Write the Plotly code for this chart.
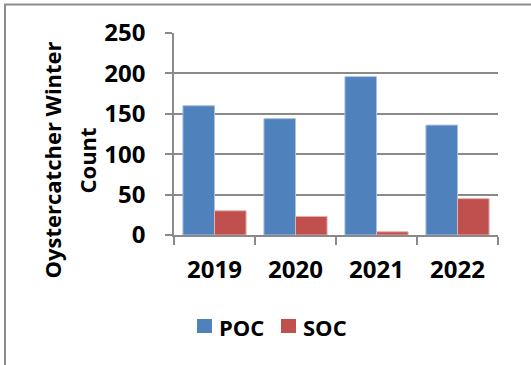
import plotly.graph_objects as go

# Winter counts of oystercatchers per survey year
years = ["2019", "2020", "2021", "2022"]
series_names = ["POC", "SOC"]
poc_counts = [160, 144, 196, 136]
soc_counts = [30, 23, 4, 45]
series_colors = ["#4F81BD", "#C0504D"]
edge_colors = ["#A9C0E0", "#E3B0AE"]

W, H = 531, 365
L, R, T, B = 174, 33, 33, 130
PW, PH = W - L - R, H - T - B


def px_x(p):
    return (p - L) / PW


def px_y(p):
    return (H - B - p) / PH


font_main = dict(family="Open Sans", size=22, color="black", weight="bold")
font_tick = dict(family="Open Sans", size=24, color="black", weight="bold")
grid_col = "#8A8A8A"

fig = go.Figure()
for name, vals, col, edge in zip(series_names, [poc_counts, soc_counts], series_colors, edge_colors):
    fig.add_trace(go.Bar(
        x=years, y=vals, name=name,
        marker=dict(color=col, line=dict(color=edge, width=1)),
        showlegend=False,
    ))

fig.update_layout(
    width=W, height=H,
    margin=dict(l=L, r=R, t=T, b=B),
    paper_bgcolor="white", plot_bgcolor="white",
    barmode="group", bargap=0.22, bargroupgap=0,
    font=font_main,
    xaxis=dict(
        type="category", showgrid=False,
        showline=True, linecolor=grid_col, linewidth=1.5,
        ticks="outside", tickson="boundaries", ticklen=8, tickwidth=1.5, tickcolor=grid_col,
        ticklabelstandoff=12,
        tickfont=font_tick,
    ),
    yaxis=dict(
        range=[0, 250], dtick=50, tick0=0,
        showgrid=True, gridcolor=grid_col, gridwidth=1.5,
        zeroline=False,
        showline=True, linecolor=grid_col, linewidth=1.5,
        ticks="outside", ticklen=7, tickwidth=1.5, tickcolor=grid_col,
        ticklabelstandoff=15,
        tickfont=font_tick,
    ),
)

# Chart-area border (left and top edges visible)
border = dict(color="#8C8C8C", width=2)
fig.add_shape(type="line", xref="paper", yref="paper",
              x0=px_x(5), x1=px_x(5), y0=px_y(4.5), y1=px_y(380), line=border)
fig.add_shape(type="line", xref="paper", yref="paper",
              x0=px_x(4), x1=px_x(545), y0=px_y(4.5), y1=px_y(4.5), line=border)

# Two-line rotated axis title
for text, cx in [("Oystercatcher Winter", 51), ("Count", 86)]:
    fig.add_annotation(text=text, xref="paper", yref="paper",
                       x=px_x(cx), y=px_y(160.5), xanchor="center", yanchor="middle",
                       textangle=-90, showarrow=False, font=font_main)

# Legend row
legend_items = [(197, 218), (281, 302)]
for (sx, tx), name, col in zip(legend_items, series_names, series_colors):
    fig.add_shape(type="rect", xref="paper", yref="paper",
                  x0=px_x(sx), x1=px_x(sx + 15), y0=px_y(333), y1=px_y(319),
                  fillcolor=col, line=dict(width=0))
    fig.add_annotation(text=name, xref="paper", yref="paper",
                       x=px_x(tx), y=px_y(326.5), xanchor="left", yanchor="middle",
                       showarrow=False, font=font_main, borderpad=0)

fig.write_html("out.html")
